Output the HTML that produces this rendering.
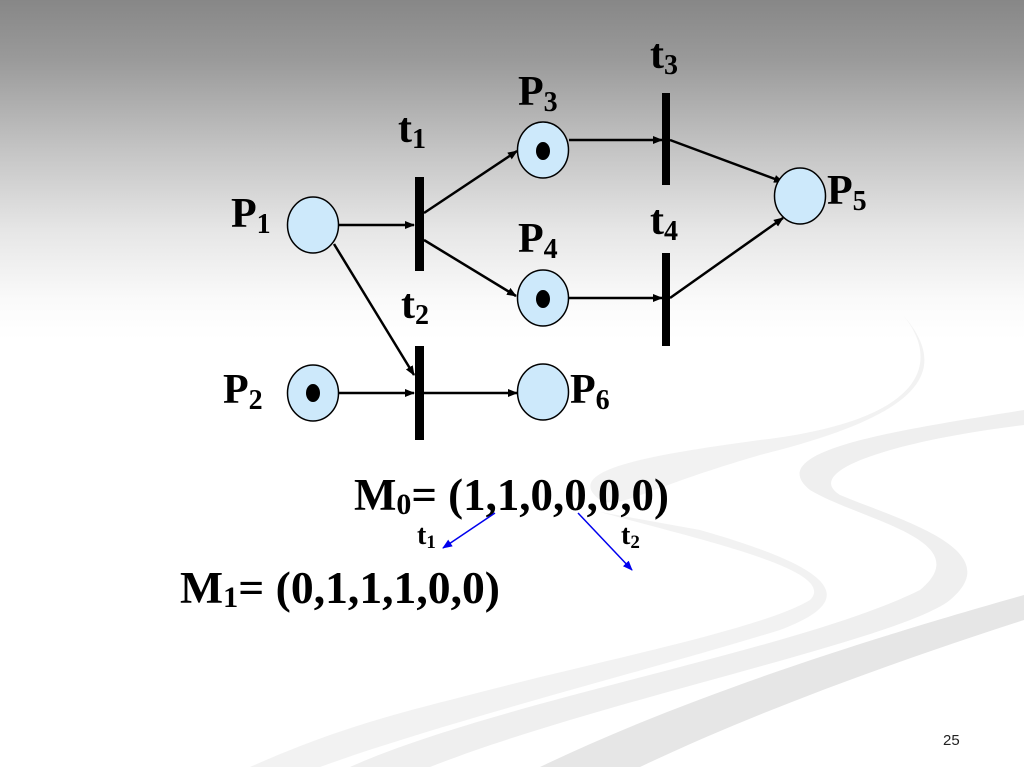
<!DOCTYPE html>
<html><head><meta charset="utf-8"><style>
html,body{margin:0;padding:0}
body{width:1024px;height:767px;overflow:hidden;background:linear-gradient(#878787 0px,#9a9a9a 60px,#c4c4c4 150px,#e6e6e6 230px,#fafafa 300px,#fff 340px);}
svg{position:absolute;left:0;top:0}
</style></head><body>
<svg width="1024" height="767" viewBox="0 0 1024 767" xmlns="http://www.w3.org/2000/svg">
<defs>
<marker id="a" markerWidth="10" markerHeight="8" refX="9" refY="4" orient="auto" markerUnits="userSpaceOnUse"><path d="M0,0 L10,4 L0,8 z" fill="#000"/></marker>
<marker id="b" markerWidth="10" markerHeight="8" refX="9" refY="4" orient="auto" markerUnits="userSpaceOnUse"><path d="M0,0 L10,4 L0,8 z" fill="#0000ee"/></marker>
</defs>
<g fill="#efefef">
<path d="M903,315 C940,360 930,420 760,440 C650,455 560,470 600,500 C620,510 640,490 760,455 C900,420 960,380 903,315 z" opacity="0.8"/>
<path d="M1024,410 C900,430 760,450 810,490 C860,520 980,540 920,590 C800,650 500,700 350,767 L430,767 C600,700 900,640 950,600 C1010,550 900,520 840,495 C800,470 900,440 1024,425 z"/>
<path d="M600,512 C700,540 840,570 810,600 C760,630 600,660 450,700 C350,725 300,745 250,767 L320,767 C450,720 650,670 780,630 C860,600 840,570 700,530 z" opacity="0.8"/>
<path d="M1024,595 C900,630 700,690 540,767 L640,767 C760,710 900,660 1024,620 z" fill="#e6e6e6"/>
</g>
<g stroke="#000" stroke-width="2.5" fill="none">
<line x1="339" y1="225" x2="414" y2="225" marker-end="url(#a)"/>
<line x1="424" y1="213" x2="517" y2="151" marker-end="url(#a)"/>
<line x1="424" y1="240" x2="516" y2="296" marker-end="url(#a)"/>
<line x1="334" y1="244" x2="414" y2="375" marker-end="url(#a)"/>
<line x1="339" y1="393" x2="414" y2="393" marker-end="url(#a)"/>
<line x1="424" y1="393" x2="517" y2="393" marker-end="url(#a)"/>
<line x1="569" y1="140" x2="662" y2="140" marker-end="url(#a)"/>
<line x1="569" y1="298" x2="662" y2="298" marker-end="url(#a)"/>
<line x1="670" y1="140" x2="783" y2="182" marker-end="url(#a)"/>
<line x1="670" y1="298" x2="783" y2="218" marker-end="url(#a)"/>
</g>
<g fill="#000">
<rect x="415" y="177" width="9" height="94"/>
<rect x="415" y="346" width="9" height="94"/>
<rect x="662" y="93" width="8" height="92"/>
<rect x="662" y="253" width="8" height="93"/>
</g>
<g fill="#cde9fb" stroke="#000" stroke-width="1.5">
<ellipse cx="313" cy="225" rx="25.5" ry="28"/>
<ellipse cx="313" cy="393" rx="25.5" ry="28"/>
<ellipse cx="543" cy="150" rx="25.5" ry="28"/>
<ellipse cx="543" cy="298" rx="25.5" ry="28"/>
<ellipse cx="543" cy="392" rx="25.5" ry="28"/>
<ellipse cx="800" cy="196" rx="25.5" ry="28"/>
</g>
<g fill="#000">
<ellipse cx="313" cy="393" rx="7" ry="9"/>
<ellipse cx="543" cy="151" rx="7" ry="9"/>
<ellipse cx="543" cy="299" rx="7" ry="9"/>
</g>
<g font-family="'Liberation Serif',serif" font-weight="bold" font-size="42" fill="#000">
<text x="231" y="227">P<tspan font-size="28" dy="6">1</tspan></text>
<text x="223" y="403">P<tspan font-size="28" dy="6">2</tspan></text>
<text x="518" y="105">P<tspan font-size="28" dy="6">3</tspan></text>
<text x="518" y="252">P<tspan font-size="28" dy="6">4</tspan></text>
<text x="827" y="204">P<tspan font-size="28" dy="6">5</tspan></text>
<text x="570" y="403">P<tspan font-size="28" dy="6">6</tspan></text>
<text x="398" y="142">t<tspan font-size="28" dy="6">1</tspan></text>
<text x="401" y="318">t<tspan font-size="28" dy="6">2</tspan></text>
<text x="650" y="68">t<tspan font-size="28" dy="6">3</tspan></text>
<text x="650" y="234">t<tspan font-size="28" dy="6">4</tspan></text>
<text x="354" y="510" font-size="45" textLength="315" lengthAdjust="spacingAndGlyphs">M<tspan font-size="30" dy="4">0</tspan><tspan dy="-4">= (1,1,0,0,0,0)</tspan></text>
<text x="180" y="603" font-size="45" textLength="320" lengthAdjust="spacingAndGlyphs">M<tspan font-size="30" dy="4">1</tspan><tspan dy="-4">= (0,1,1,1,0,0)</tspan></text>
<text x="417" y="544" font-size="28">t<tspan font-size="19" dy="4">1</tspan></text>
<text x="621" y="544" font-size="28">t<tspan font-size="19" dy="4">2</tspan></text>
</g>
<g stroke="#0000ee" stroke-width="1.5">
<line x1="495" y1="513" x2="443" y2="548" marker-end="url(#b)"/>
<line x1="578" y1="513" x2="632" y2="570" marker-end="url(#b)"/>
</g>
<text x="943" y="745" font-family="'Liberation Sans',sans-serif" font-size="15" fill="#222">25</text>
</svg>
</body></html>
